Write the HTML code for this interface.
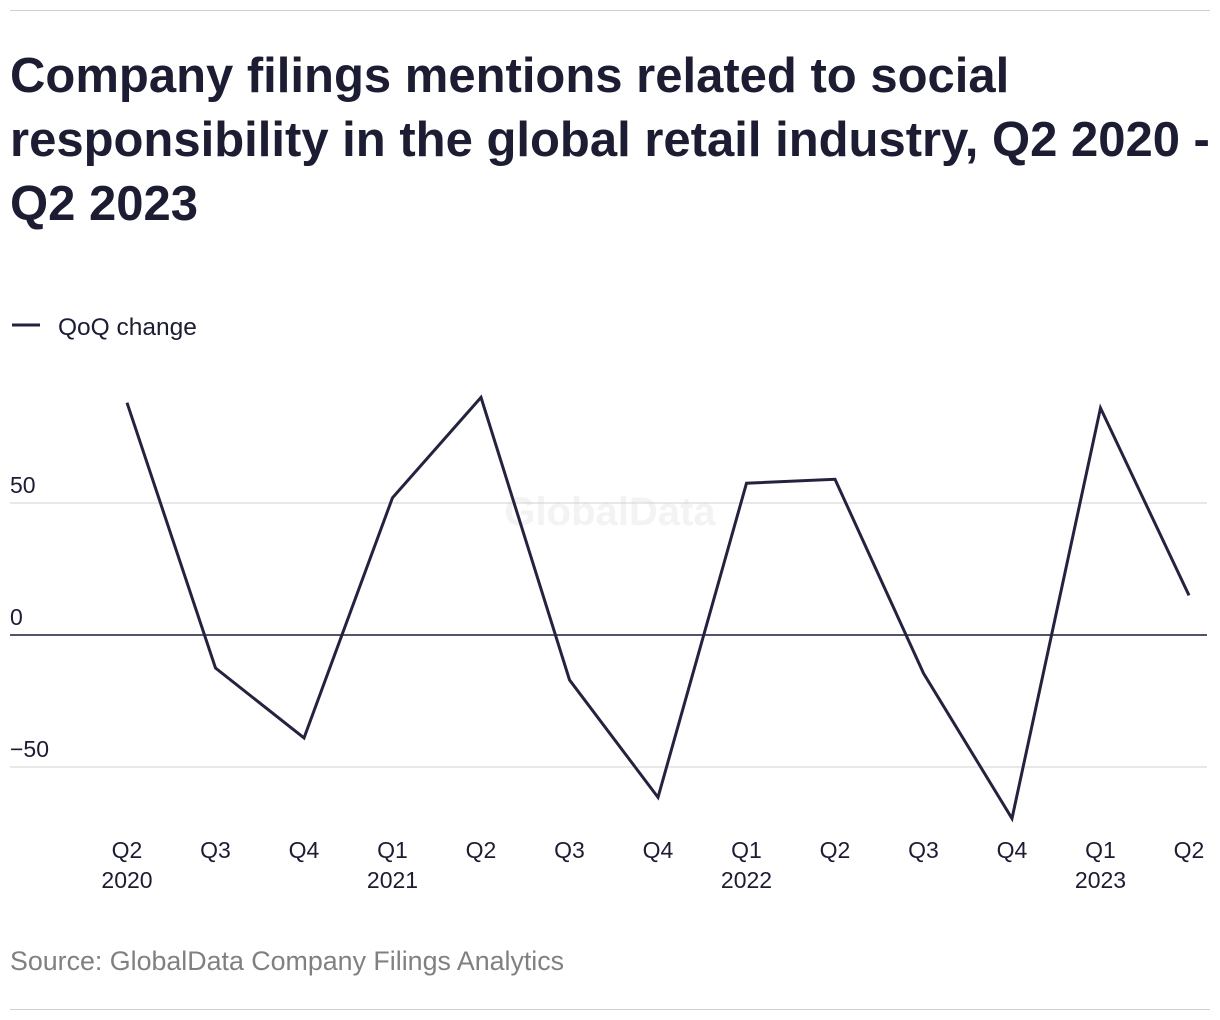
<!DOCTYPE html>
<html><head><meta charset="utf-8"><style>
body{margin:0;background:#fff;width:1220px;height:1020px;overflow:hidden;font-family:"Liberation Sans",sans-serif;color:#1c1c33}
.title{position:absolute;left:10px;top:44px;font-size:49px;font-weight:bold;line-height:64px;white-space:nowrap;letter-spacing:0px}
.rule{position:absolute;left:10px;width:1200px;height:1px;background:#d0d0d0}
</style></head><body>
<div class="rule" style="top:10px"></div>
<div class="title">Company filings mentions related to social<br>responsibility in the global retail industry, Q2 2020 -<br>Q2 2023</div>
<svg width="1220" height="1020" style="position:absolute;left:0;top:0" id="chart">
<g>
<line x1="12" y1="325" x2="40" y2="325" stroke="#23233f" stroke-width="3"/>
<text x="58" y="335" font-size="24.5" fill="#1c1c33">QoQ change</text>
</g>
<text x="610" y="525" font-size="40" font-weight="bold" fill="#f3f3f3" text-anchor="middle">GlobalData</text>
<g id="grid"></g><g id="xaxis"></g>
<text x="10" y="970" font-size="26.8" fill="#808080">Source: GlobalData Company Filings Analytics</text>
</svg>
<div class="rule" style="top:1009px"></div>
<script>
const quarters=["Q2","Q3","Q4","Q1","Q2","Q3","Q4","Q1","Q2","Q3","Q4","Q1","Q2"];
const years=["2020","","","2021","","","","2022","","","","2023",""];
const values=[88,-12.5,-39,52,90,-17,-61.5,57.5,59,-14.5,-69.5,86,15];
const yTicks=[50,0,-50];
const ns="http://www.w3.org/2000/svg";
const svg=document.getElementById('chart');
const x=i=>127+i*(1189-127)/(quarters.length-1);
const y=v=>635-v*2.64;
function mk(t,a,p){const e=document.createElementNS(ns,t);for(const k in a)e.setAttribute(k,a[k]);(p||svg).appendChild(e);return e;}
const grid=document.getElementById('grid');
yTicks.forEach(t=>{
 const l=mk('line',{x1:10,x2:1207,y1:y(t),y2:y(t),stroke:t===0?'#1c1c33':'#d0d0d0','stroke-width':t===0?1.5:1},grid);
 
 
 const tx=mk('text',{x:10,y:y(t)-10,'font-size':23,fill:'#1c1c33'},grid);
 tx.textContent=t<0?'\u2212'+Math.abs(t):String(t);
 
 
});
const xa=document.getElementById('xaxis');
quarters.forEach((q,i)=>{
 const t=mk('text',{x:x(i),y:858,'font-size':23,fill:'#1c1c33','text-anchor':'middle'},xa);
 t.textContent=q;
 
 
 if(years[i]){const t2=mk('text',{x:x(i),y:888,'font-size':23,fill:'#1c1c33','text-anchor':'middle'},xa);
 t2.textContent=years[i];
 
 }
});
const p=mk('polyline',{points:values.map((v,i)=>x(i)+','+y(v)).join(' '),fill:'none',stroke:'#23233f','stroke-width':3,'stroke-linejoin':'miter'});


</script>
</body></html>
